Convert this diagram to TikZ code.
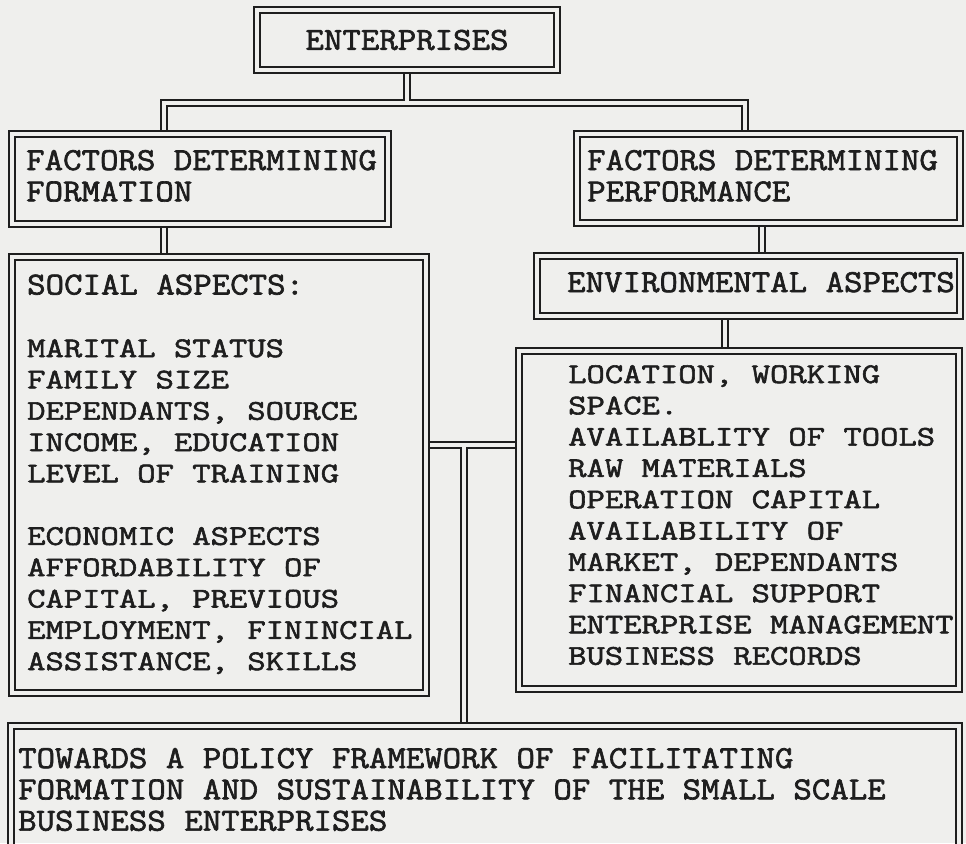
\documentclass[tikz,border=0pt]{standalone}
\usepackage{fontspec}
\newfontfamily\tw[FakeStretch=1.25,FakeBold=2]{Latin Modern Mono}
\newfontfamily\hd[FakeStretch=1.12,FakeBold=2]{Latin Modern Mono}
\newcommand\twfont{\tw\fontsize{28.5}{31.3}\selectfont}
\newcommand\hdfont{\hd\fontsize{32}{31.3}\selectfont}
\usetikzlibrary{calc}
\pgfdeclarelayer{paper}
\pgfdeclarelayer{wires}
\pgfsetlayers{paper,wires,main}
\definecolor{paper}{RGB}{239,239,237}
\definecolor{ink}{RGB}{30,30,30}
\tikzset{
  dbox/.style={draw=ink, line width=2pt, double=paper, double distance=4pt,
    rectangle, inner sep=0pt, text=ink, font=\hdfont},
  wire/.style={draw=ink, line width=2pt, double=paper, double distance=4pt},
  txt/.style={inner sep=0pt, anchor=base west, text=ink, font=\twfont},
  head/.style={txt, font=\hdfont}
}
\begin{document}
\begin{tikzpicture}[x=1pt,y=-1pt]
\useasboundingbox (0,0) rectangle (966,843);
\begin{pgfonlayer}{paper}
  \fill[paper] (0,0) rectangle (966,843);
\end{pgfonlayer}

% boxes
\node[dbox, minimum width=300pt, minimum height=60pt] (ent) at (407,40) {ENTERPRISES};
\node[dbox, minimum width=376pt, minimum height=90pt] (lh) at (200,179) {};
\node[dbox, minimum width=383pt, minimum height=89pt] (rh) at (768.5,178.5) {};
\node[dbox, minimum width=414pt, minimum height=436pt] (soc) at (219,475) {};
\node[dbox, minimum width=423pt, minimum height=60pt] (env) at (748.5,286) {};
\node[dbox, minimum width=440pt, minimum height=338pt] (rb) at (739,520) {};
\node[dbox, minimum width=948pt, minimum height=140pt] (bot) at (485,796) {};

% texts
\node[head] (lh-t) at (26,170) {\begin{tabular}[t]{@{}l@{}}FACTORS DETERMINING\\FORMATION\end{tabular}};
\node[head] (rh-t) at (587,170) {\begin{tabular}[t]{@{}l@{}}FACTORS DETERMINING\\PERFORMANCE\end{tabular}};
\node[txt] (soc-t) at (27,294.5) {\begin{tabular}[t]{@{}l@{}}{\hdfont SOCIAL ASPECTS:}\\ \\MARITAL STATUS\\FAMILY SIZE\\DEPENDANTS, SOURCE\\INCOME, EDUCATION\\LEVEL OF TRAINING\\ \\ECONOMIC ASPECTS\\AFFORDABILITY OF\\CAPITAL, PREVIOUS\\EMPLOYMENT, FININCIAL\\ASSISTANCE, SKILLS\end{tabular}};
\node[head] (env-t) at (567,292) {ENVIRONMENTAL ASPECTS};
\node[txt] (rb-t) at (568,383) {\begin{tabular}[t]{@{}l@{}}LOCATION, WORKING\\SPACE.\\AVAILABLITY OF TOOLS\\RAW MATERIALS\\OPERATION CAPITAL\\AVAILABILITY OF\\MARKET, DEPENDANTS\\FINANCIAL SUPPORT\\ENTERPRISE MANAGEMENT\\BUSINESS RECORDS\end{tabular}};
\node[head] (bot-t) at (18,768) {\begin{tabular}[t]{@{}l@{}}TOWARDS A POLICY FRAMEWORK OF FACILITATING\\FORMATION AND SUSTAINABILITY OF THE SMALL SCALE\\BUSINESS ENTERPRISES\end{tabular}};

% connectors
\coordinate (j1) at (164,102.5);
\coordinate (j2) at (744.5,102.5);
\coordinate (j3) at (761.5,0);
\coordinate (j5) at (725,0);
\coordinate (j4) at (463.5,444.5);
\begin{pgfonlayer}{wires}
  \draw[wire] (ent.south) -- (ent.south |- j1)
              (lh.north -| j1) -- (j1) -- (j2) -- (j2 |- rh.north);
  \draw[wire] (lh.south -| j1) -- (soc.north -| j1);
  \draw[wire] (rh.south -| j3) -- (env.north -| j3);
  \draw[wire] (env.south -| j5) -- (rb.north -| j5);
  \draw[wire] (soc.east |- j4) -- (rb.west |- j4)
              (j4) -- (j4 |- bot.north);
\end{pgfonlayer}
\end{tikzpicture}
\end{document}
